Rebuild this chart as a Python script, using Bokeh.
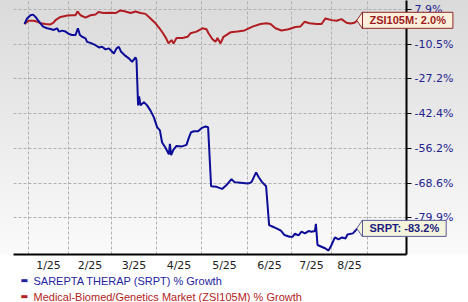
import numpy as np
from bokeh.plotting import figure
from bokeh.models import FixedTicker, Range1d
from bokeh.embed import file_html
from bokeh.resources import INLINE
from bokeh.core.properties import value

# ---- data (x = trading-session index, y = % growth) ----
srpt_x = [0, 1.3, 3, 4.3, 5.5, 6.7, 8, 9.3, 11.3, 13, 14.7, 16.3, 17.2, 18.8, 20.5,
          22.2, 23.8, 25.5, 26.7, 27.7, 28.8, 30.5, 31.3, 33, 35.5, 37.2, 38.8, 40.5,
          42.2, 43, 44.7, 46, 47.2, 48.3, 50, 52.2, 53.8, 55.5, 56, 56.8, 57.3, 58,
          59.7, 61.3, 63, 64.7, 66.3, 67.7, 68.8, 70.5, 72.2, 72.7, 73.3, 74.5, 76,
          78.8, 81, 82.2, 83.3, 84.8, 86.8, 88.5, 90.5, 91.8, 93.3, 96, 98.8, 101.3,
          103.5, 105, 108, 111.7, 113.5, 115.8, 117.2, 118.8, 120.8, 122.3, 124.2, 126,
          128.2, 130, 132.5, 134, 135.2, 137, 138.5, 140.2, 142, 143.5, 145.2, 145.7,
          146, 146.5, 148.5, 150.5, 152, 153.5, 155.2, 157, 158.8, 160.5, 161.5, 164.2,
          166.5]
srpt_pct = [0.0, 3.0, 4.75, 5.1, 3.85, 2.1, 0.4, -1.4, -2.25, -2.6, -3.15, -2.25, -4.0,
            -3.5, -4.0, -5.25, -5.8, -5.8, -2.25, -5.8, -6.7, -7.5, -9.3, -9.8, -11.0,
            -12.1, -11.8, -13.1, -12.6, -13.4, -15.1, -12.6, -11.8, -14.3, -15.9, -17.5,
            -19.2, -17.0, -18.3, -38.9, -35.0, -38.9, -37.5, -38.9, -41.1, -43.9, -47.9,
            -49.2, -53.9, -55.9, -58.4, -54.4, -58.7, -56.6, -55.2, -55.4, -54.8, -52.0,
            -49.9, -49.5, -49.5, -48.3, -47.6, -47.9, -69.7, -69.9, -70.6, -69.1, -67.3,
            -68.3, -68.5, -68.8, -68.3, -64.9, -66.7, -68.3, -69.7, -82.2, -82.7, -83.2,
            -83.9, -85.2, -85.7, -85.7, -84.8, -85.3, -84.2, -84.7, -84.0, -84.2, -84.0,
            -81.8, -84.2, -88.1, -88.6, -89.1, -89.7, -88.1, -85.9, -86.5, -85.9, -86.2,
            -85.0, -84.7, -83.2]

zsi_x = [0, 2, 4.5, 6.5, 8, 10.5, 13, 14.5, 15.5, 18, 21.5, 24, 25.5, 26.5, 28, 30.5, 33,
         35.5, 37, 39.5, 43, 45.5, 48, 50.5, 53, 55.5, 58, 60.5, 63, 65.5, 67.5, 69.5, 71,
         72, 73.5, 74.5, 76, 79, 81.5, 83, 86, 89, 91, 92, 94, 95.5, 96.5, 98, 99.5, 103,
         106.5, 110, 114, 118, 121, 123, 125.5, 128.5, 132, 135.5, 138, 140, 142.5, 146,
         148.5, 150.5, 153.5, 156, 158.5, 161, 163, 165, 166.5]
zsi_pct = [0.0, 1.75, 1.75, 1.2, 0.4, 0.0, -0.2, 0.7, 2.1, 3.85, 4.6, 4.75, 4.75, 6.85,
           4.75, 3.5, 4.75, 5.1, 6.5, 5.95, 6.15, 5.95, 7.4, 6.85, 5.95, 6.85, 5.95, 5.5,
           3.0, 0.4, -2.25, -5.25, -7.9, -10.1, -8.4, -10.1, -7.35, -7.35, -6.7, -4.9,
           -4.0, -2.25, -2.8, -4.9, -8.0, -9.3, -7.35, -10.1, -6.7, -4.4, -4.0, -3.4,
           -1.4, 0.0, 0.4, 0.0, -2.25, -3.4, -2.8, -1.6, -1.3, 1.2, 0.4, 0.0, 0.0, 3.0,
           2.1, 1.75, 2.65, 0.7, 0.25, 0.7, 2.0]

srpt_last = -83.2
zsi_last = 2.0

month_starts = [2, 22, 43.5, 66, 88.5, 111.5, 133.5, 153.5, 171.5]
month_labels = ["1/25", "2/25", "3/25", "4/25", "5/25", "6/25", "7/25", "8/25"]
y_tick_pct = [-79.9, -68.6, -56.2, -42.4, -27.2, -10.5, 7.9]

series_names = ["SAREPTA THERAP (SRPT) % Growth",
                "Medical-Biomed/Genetics Market (ZSI105M) % Growth"]

# ---- the chart uses a log scale of (growth + base) ----
OFFSET = 191.0


def to_axis(v):
    return np.asarray(v, dtype=float) + OFFSET


W, H = 468, 302
FRAME_L, FRAME_R, FRAME_T, FRAME_B = 13, 406, 0, 254
X0, X1 = -5.5, 191.0
Y0, Y1 = -90.8 + OFFSET, 13.0 + OFFSET


def px_to_x(px):
    return X0 + (px - FRAME_L) / (FRAME_R - FRAME_L) * (X1 - X0)


def px_len_x(n):
    return n * (X1 - X0) / (FRAME_R - FRAME_L)


def px_to_y(py):
    lo, hi = np.log(Y0), np.log(Y1)
    return float(np.exp(lo + (FRAME_B - py) / (FRAME_B - FRAME_T) * (hi - lo)))


BLUE = "#0c0c98"
RED = "#b01c22"

p = figure(width=W, height=H, output_backend="svg", toolbar_location=None,
           x_range=Range1d(X0, X1), y_range=Range1d(Y0, Y1),
           y_axis_type="log", y_axis_location="right",
           min_border_left=FRAME_L, min_border_right=W - FRAME_R,
           min_border_top=FRAME_T, min_border_bottom=H - FRAME_B)
p.background_fill_color = None
p.border_fill_color = None
p.outline_line_color = None
p.styles = {"background": "linear-gradient(to bottom, #dadada 0px, #fafafa 252px, #ffffff 256px, #ffffff 100%)"}

# y axis (right)
yt = [float(t) for t in to_axis(y_tick_pct)]
p.yaxis.ticker = FixedTicker(ticks=yt)
p.yaxis.major_label_overrides = {t: f"{v:.1f}%" for t, v in zip(yt, y_tick_pct)}
p.yaxis.axis_line_width = 2
p.yaxis.axis_line_color = "black"
p.yaxis.major_tick_out = 5
p.yaxis.major_tick_in = 0
p.yaxis.major_tick_line_color = "black"
p.yaxis.minor_tick_line_color = None
p.yaxis.major_label_standoff = 3
p.yaxis.major_label_text_font = "DejaVu Sans"
p.yaxis.major_label_text_font_size = "11px"
p.yaxis.major_label_text_color = "#23238e"

# x axis (bottom)
mids = [(a + b) / 2 for a, b in zip(month_starts[:-1], month_starts[1:])]
p.xaxis.ticker = FixedTicker(ticks=mids)
p.xaxis.major_label_overrides = {float(m): l for m, l in zip(mids, month_labels)}
p.xaxis.axis_line_width = 2
p.xaxis.axis_line_color = "black"
p.xaxis.major_tick_line_color = None
p.xaxis.minor_tick_line_color = None
p.xaxis.major_tick_out = 0
p.xaxis.major_tick_in = 0
p.xaxis.major_label_standoff = 4
p.xaxis.major_label_text_font = "DejaVu Sans"
p.xaxis.major_label_text_font_size = "11px"
p.xaxis.major_label_text_color = "#222222"

p.xgrid.ticker = FixedTicker(ticks=month_starts)
for g in (p.xgrid, p.ygrid):
    g.grid_line_color = "#b0b0b0"
    g.grid_line_dash = "3 2"
    g.grid_line_width = 1

p.line(zsi_x, to_axis(zsi_pct), line_color=RED, line_width=2)
p.line(srpt_x, to_axis(srpt_pct), line_color=BLUE, line_width=2)

# callouts at the last points (overlay level, so they may leave the frame)
callouts = [
    (zsi_x[-1], zsi_last, f"ZSI105M: {zsi_last:.1f}%", "#9e1b1b", "#fcf0dc", "#8c2a2a"),
    (srpt_x[-1], srpt_last, f"SRPT: {srpt_last:.1f}%", "#1c1c7c", "#f4f3dc", "#5a5a9a"),
]
for cx, cv, txt, tcol, fcol, bcol in callouts:
    cy = float(to_axis([cv])[0])
    p.scatter(x=[cx + px_len_x(5)], y=[cy], marker="diamond", size=17,
              fill_color=fcol, line_color=bcol, line_width=1, level="overlay")
    p.text(x=[cx], y=[cy], text=[txt], x_offset=5, text_baseline="middle",
           text_align="left", text_font=value("Liberation Sans"), text_font_size="11px",
           text_font_style="bold", text_color=tcol, background_fill_color=fcol,
           border_line_color=bcol, padding=(7, 2), level="overlay")

# legend (coloured text with a short dash)
for i, (name, col) in enumerate(zip(series_names, ["#2323a0", "#b22222"])):
    ly = px_to_y(280 + 16 * i)
    p.text(x=[px_to_x(20)], y=[ly], text=["\u25ac"], text_baseline="middle",
           text_align="left", text_font=value("DejaVu Sans"), text_font_size="8px",
           text_color=col, level="overlay")
    p.text(x=[px_to_x(33)], y=[ly], text=[name], text_baseline="middle",
           text_align="left", text_font=value("Liberation Sans"), text_font_size="11px",
           text_color=col, level="overlay")

open("out.html", "w").write(file_html(p, INLINE))
